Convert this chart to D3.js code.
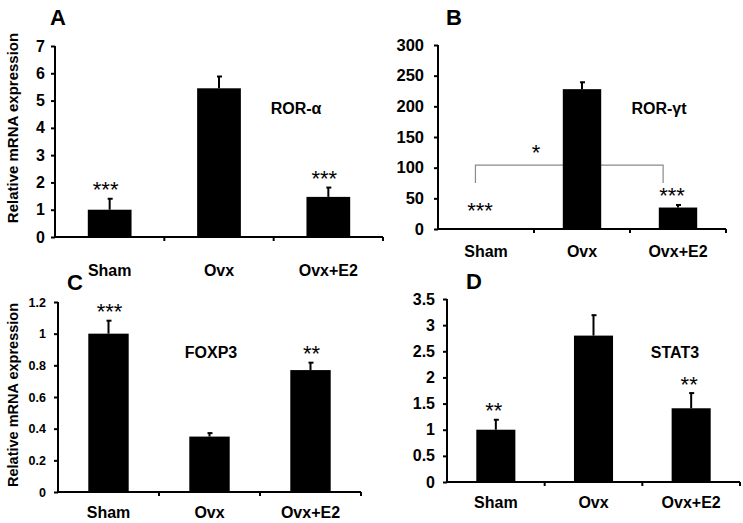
<!DOCTYPE html>
<html>
<head>
<meta charset="utf-8">
<script src="https://cdn.jsdelivr.net/npm/d3@7"></script>
<style>
  html, body { margin: 0; padding: 0; background: #fff; }
  svg { display: block; font-family: "Liberation Sans", Arial, sans-serif; }
</style>
</head>
<body>
<svg id="chart" width="743" height="523"></svg>
<script>
// ---------- data ----------
const categories = ["Sham", "Ovx", "Ovx+E2"];

const rorAlphaMean = [1.0, 5.45, 1.47];
const rorAlphaErr  = [0.42, 0.45, 0.36];
const rorAlphaSig  = ["***", "", "***"];
const rorAlphaTicks = [0, 1, 2, 3, 4, 5, 6, 7];

const rorGammaMean = [0, 228, 35];
const rorGammaErr  = [0, 12, 5];
const rorGammaSig  = ["***", "", "***"];
const rorGammaTicks = [0, 50, 100, 150, 200, 250, 300];
const rorGammaBracket = [104, 75]; // bracket level, bracket leg end (data units)

const foxp3Mean = [1.0, 0.35, 0.77];
const foxp3Err  = [0.085, 0.025, 0.05];
const foxp3Sig  = ["***", "", "**"];
const foxp3Ticks = [0, 0.2, 0.4, 0.6, 0.8, 1, 1.2];

const stat3Mean = [1.0, 2.8, 1.41];
const stat3Err  = [0.2, 0.4, 0.3];
const stat3Sig  = ["**", "", "**"];
const stat3Ticks = [0, 0.5, 1, 1.5, 2, 2.5, 3, 3.5];

const panelLetters = ["A", "B", "C", "D"];
const geneNames = ["ROR-α", "ROR-γt", "FOXP3", "STAT3"];
const yTitle = "Relative mRNA expression";

// ---------- layout ----------
const svg = d3.select("#chart");
svg.append("rect").attr("width", 743).attr("height", 523).attr("fill", "#fff");

function drawPanel(o) {
  const g = svg.append("g");
  const x = d3.scaleBand().domain(categories).range([o.x0, o.x1]).padding(0);
  const y = d3.scaleLinear().domain([0, d3.max(o.ticks)]).range([o.yb, o.yt]);
  const bw = x.bandwidth() * 0.4;

  // panel letter
  g.append("text").attr("x", o.lx).attr("y", o.ly)
    .attr("font-size", 22).attr("font-weight", "bold").text(o.letter);

  // y title
  if (o.title) {
    g.append("text")
      .attr("transform", `translate(${o.tx},${o.ty}) rotate(-90)`)
      .attr("text-anchor", "middle").attr("font-size", o.titleSize)
      .attr("font-weight", "bold").text(yTitle);
  }

  // bracket (behind bars)
  if (o.bracket) {
    const bx1 = x(categories[0]) + x.bandwidth() * 0.39;
    const bx2 = x(categories[2]) + x.bandwidth() * 0.345;
    const lv = y(o.bracket[0]), le = y(o.bracket[1]);
    g.append("path")
      .attr("d", `M${bx1},${le}V${lv}H${bx2}V${le}`)
      .attr("fill", "none").attr("stroke", "#8a8a8a").attr("stroke-width", 1.2);
    g.append("text").attr("x", x(categories[1]) + 2).attr("y", lv - 5)
      .attr("text-anchor", "middle").attr("font-size", 22).text("*");
  }

  // bars
  g.selectAll(".bar").data(categories).enter().append("rect")
    .attr("x", d => x(d) + (x.bandwidth() - bw) / 2)
    .attr("y", (d, i) => y(o.mean[i]))
    .attr("width", bw)
    .attr("height", (d, i) => y(0) - y(o.mean[i]))
    .attr("fill", "#000");

  // error bars
  categories.forEach((c, i) => {
    if (o.err[i] <= 0) return;
    const cx = x(c) + x.bandwidth() / 2;
    const top = y(o.mean[i] + o.err[i]);
    g.append("line").attr("x1", cx).attr("x2", cx)
      .attr("y1", y(o.mean[i])).attr("y2", top)
      .attr("stroke", "#000").attr("stroke-width", 2);
    g.append("line").attr("x1", cx - 2).attr("x2", cx + 3)
      .attr("y1", top + 0.5).attr("y2", top + 0.5)
      .attr("stroke", "#000").attr("stroke-width", 2);
  });

  // significance stars
  categories.forEach((c, i) => {
    if (!o.sig[i]) return;
    const cx = x(c) + x.bandwidth() / 2;
    let top = y(o.mean[i] + o.err[i]);
    top = Math.min(top, y(0) - 10);
    g.append("text").attr("x", cx + o.starDx).attr("y", top - 1)
      .attr("text-anchor", "middle").attr("font-size", 22).text(o.sig[i]);
  });

  // gene label
  g.append("text").attr("x", o.gx).attr("y", o.gy)
    .attr("text-anchor", "middle").attr("font-size", 16)
    .attr("font-weight", "bold").text(o.gene);

  // y axis
  const ya = d3.axisLeft(y).tickValues(o.ticks).tickSize(4).tickPadding(o.tickPad)
    .tickFormat(d3.format("~g"));
  const yg = g.append("g").attr("transform", `translate(${o.x0},0)`).call(ya);
  yg.select(".domain").attr("d", `M0,${o.yt}V${o.yb}`).attr("stroke-width", 2);
  yg.selectAll(".tick line").attr("stroke-width", 2);
  yg.selectAll(".tick text").attr("font-size", o.tickSize).attr("font-weight", "bold")
    .attr("fill", "#000").attr("font-family", "Liberation Sans, Arial, sans-serif");

  // x axis
  const xg = g.append("g").attr("transform", `translate(0,${o.yb})`);
  xg.append("line").attr("x1", o.x0).attr("x2", o.x1).attr("y1", 0).attr("y2", 0)
    .attr("stroke", "#000").attr("stroke-width", 2);
  const bounds = categories.map(c => x(c)).concat([o.x1]).slice(1);
  xg.selectAll(".xt").data(bounds).enter().append("line")
    .attr("x1", d => d).attr("x2", d => d).attr("y1", 0).attr("y2", 4)
    .attr("stroke", "#000").attr("stroke-width", 2);
  xg.selectAll(".xl").data(categories).enter().append("text")
    .attr("x", d => x(d) + x.bandwidth() / 2)
    .attr("y", o.catDy)
    .attr("text-anchor", "middle").attr("font-size", 16).attr("font-weight", "bold")
    .text(d => d);
}

drawPanel({ letter: panelLetters[0], gene: geneNames[0], mean: rorAlphaMean, err: rorAlphaErr,
  sig: rorAlphaSig, ticks: rorAlphaTicks, x0: 55, x1: 383, yb: 237, yt: 46,
  lx: 50, ly: 25, title: true, tx: 18, ty: 128, titleSize: 15, gx: 296, gy: 114,
  tickSize: 16, tickPad: 6, catDy: 39, starDx: -4 });

drawPanel({ letter: panelLetters[1], gene: geneNames[1], mean: rorGammaMean, err: rorGammaErr,
  sig: rorGammaSig, ticks: rorGammaTicks, x0: 438, x1: 726, yb: 229, yt: 45,
  lx: 446, ly: 25, title: false, gx: 659, gy: 114, bracket: rorGammaBracket,
  tickSize: 16.5, tickPad: 10, catDy: 28, starDx: -6 });

drawPanel({ letter: panelLetters[2], gene: geneNames[2], mean: foxp3Mean, err: foxp3Err,
  sig: foxp3Sig, ticks: foxp3Ticks, x0: 58, x1: 361, yb: 492, yt: 302,
  lx: 67, ly: 290, title: true, tx: 18, ty: 395, titleSize: 14.5, gx: 211, gy: 358,
  tickSize: 12.5, tickPad: 8, catDy: 26, starDx: 1 });

drawPanel({ letter: panelLetters[3], gene: geneNames[3], mean: stat3Mean, err: stat3Err,
  sig: stat3Sig, ticks: stat3Ticks, x0: 447, x1: 740, yb: 482, yt: 299,
  lx: 466, ly: 289, title: false, gx: 675, gy: 358,
  tickSize: 16, tickPad: 8, catDy: 26, starDx: -2 });
</script>
</body>
</html>
